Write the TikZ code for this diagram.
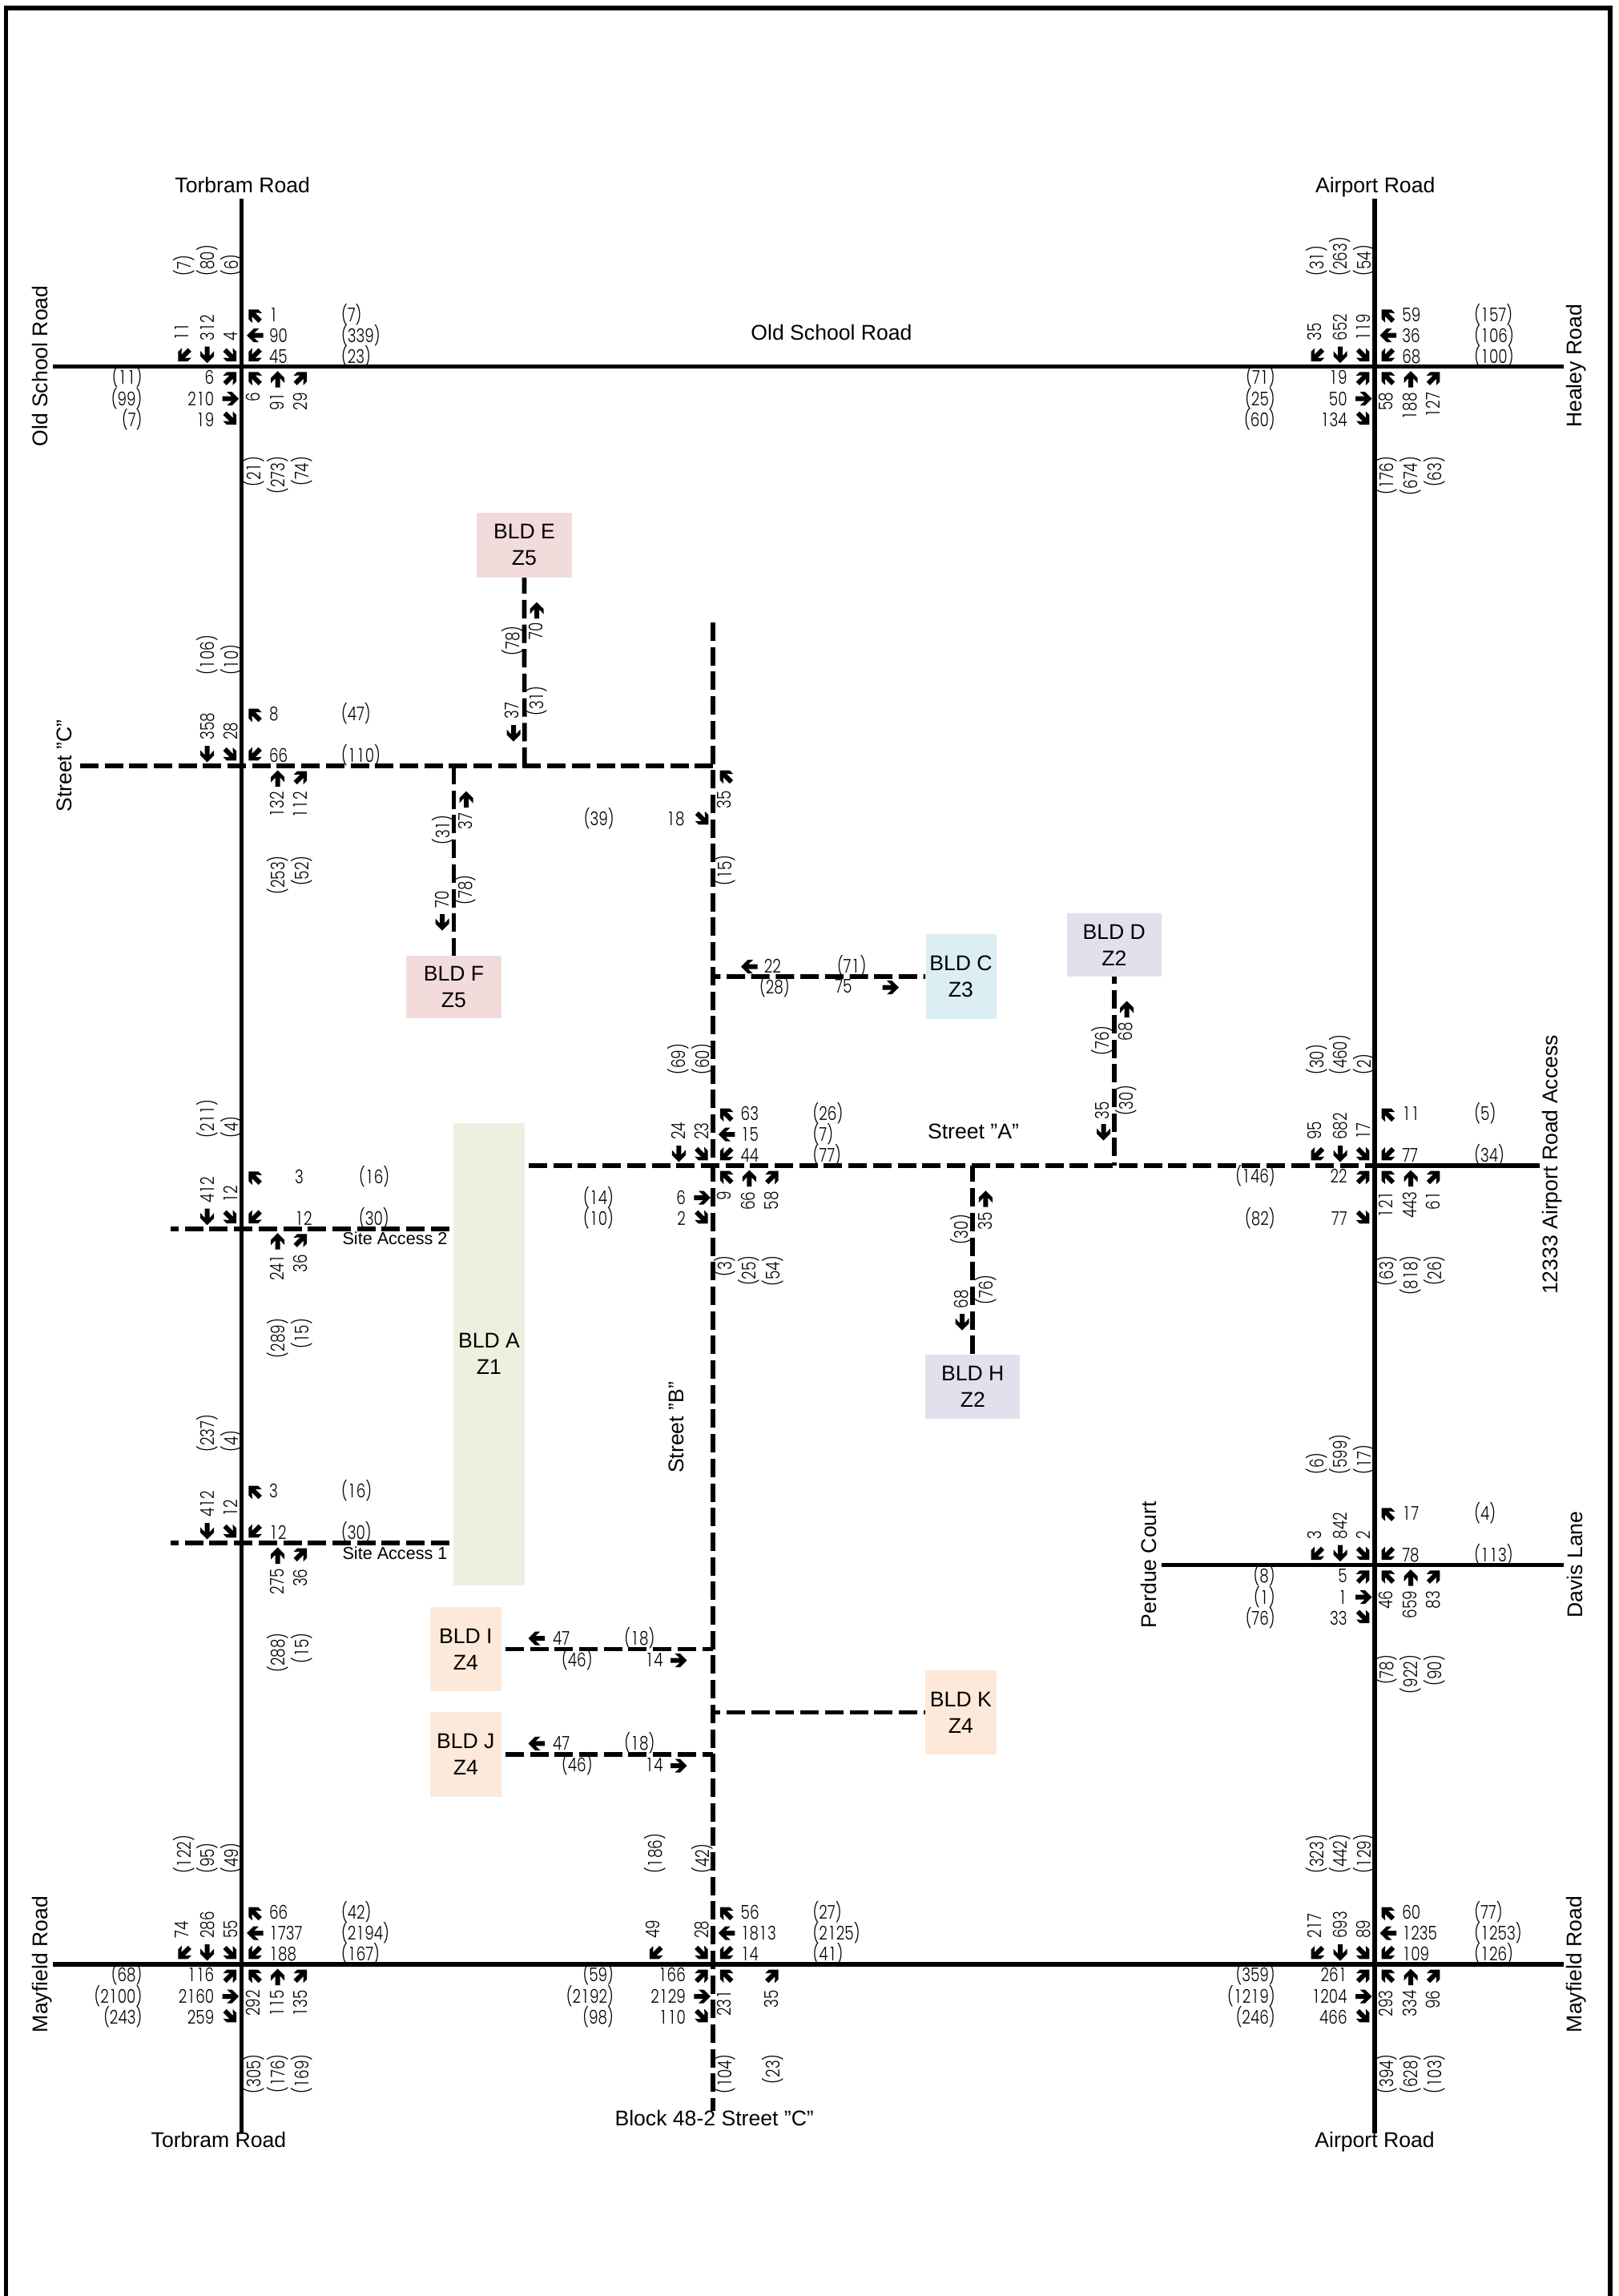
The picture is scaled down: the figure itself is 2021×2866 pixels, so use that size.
\documentclass[tikz,border=0pt]{standalone}
\usepackage{fontspec}
\setmainfont{Liberation Sans}
\newfontfamily\numf[FakeStretch=0.78]{Poppins Light}
\definecolor{bpink}{HTML}{F2DCDB}
\definecolor{bblue}{HTML}{DAEEF3}
\definecolor{blav}{HTML}{E4DFEC}
\definecolor{bgreen}{HTML}{EBF1DE}
\definecolor{bpeach}{HTML}{FDE9D9}
\tikzset{
  numl/.style={inner sep=0pt,font=\numf\fontsize{11.8}{12}\selectfont,text height=8.3pt,text depth=0pt},
  rdname/.style={inner sep=0pt,font=\fontsize{13.3}{16}\selectfont,text height=9.6pt,text depth=0pt},
  sitename/.style={inner sep=0pt,font=\fontsize{10.8}{13}\selectfont,text height=7.8pt,text depth=0pt},
  bld/.style={fill=#1,inner sep=0pt,align=center,font=\fontsize{13.3}{16.5}\selectfont},
  solidroad/.style={line width=2.65pt,black},
  dashroad/.style={line width=2.85pt,black,dash pattern=on 11.5pt off 3.85pt},
  dashroadp/.style={line width=2.85pt,black,dash pattern=on 11.5pt off 3.85pt,dash phase=7pt},
  frame/.style={line width=2.6pt,black}
}
\newcount\lblc
\def\ifne#1#2{\if\relax\detokenize{#1}\relax\else #2\fi}
% every digit one takes the width of the other digits
\def\fixd#1{\fixdA#1\relax}
\def\fixdA#1{\ifx#1\relax\else\ifx#11\hbox to 5.5pt{\hss 1\hss}\else #1\fi\expandafter\fixdA\fi}
% straight block arrow, centre (x,y), direction angle
\newcommand{\arw}[3]{\fill[shift={(#1,#2)},rotate=#3] (10.5,0)--(2,8.5)--(-4.5,8.5)--(1.5,3)--(-10,3)--(-10,-3)--(1.5,-3)--(-4.5,-8.5)--(2,-8.5)--cycle;}
% text placements
\newcommand{\tW}[3]{\global\advance\lblc by 1\node[numl,anchor=west] (t\the\lblc) at (#1,#2) {\fixd{#3}};}
\newcommand{\tE}[3]{\global\advance\lblc by 1\node[numl,anchor=east] (t\the\lblc) at (#1,#2) {\fixd{#3}};}
\newcommand{\tB}[3]{\global\advance\lblc by 1\node[numl,rotate=90,anchor=west] (t\the\lblc) at (#1,#2) {\fixd{#3}};}
\newcommand{\tT}[3]{\global\advance\lblc by 1\node[numl,rotate=90,anchor=east] (t\the\lblc) at (#1,#2) {\fixd{#3}};}
\newcommand{\tC}[3]{\global\advance\lblc by 1\node[numl,rotate=90] (t\the\lblc) at (#1,#2) {\fixd{#3}};}
\def\NOff{34}\def\POff{124}
% quadrants
\newcommand{\NEq}[6]{%
  \ifne{#1}{\arw{16}{-64}{135}\tW{\NOff}{-65}{#1}}%
  \ifne{#2}{\arw{17}{-39}{180}\tW{\NOff}{-39}{#2}}%
  \ifne{#3}{\arw{16}{-14}{225}\tW{\NOff}{-13}{#3}}%
  \ifne{#4}{\tW{\POff}{-65}{#4}}\ifne{#5}{\tW{\POff}{-39}{#5}}\ifne{#6}{\tW{\POff}{-13}{#6}}}
\newcommand{\NWq}[6]{%
  \ifne{#1}{\arw{-72}{-14}{225}\tB{-75}{-32}{#1}}%
  \ifne{#2}{\arw{-43}{-15}{270}\tB{-43}{-32}{#2}}%
  \ifne{#3}{\arw{-14}{-14}{315}\tB{-14}{-32}{#3}}%
  \ifne{#4}{\tB{-72}{-113}{#4}}\ifne{#5}{\tB{-43}{-113}{#5}}\ifne{#6}{\tB{-13}{-113}{#6}}}
\newcommand{\SWq}[6]{%
  \ifne{#1}{\arw{-14}{14}{45}\tE{-34}{13}{#1}}%
  \ifne{#2}{\arw{-14}{40}{0}\tE{-34}{40}{#2}}%
  \ifne{#3}{\arw{-14}{65}{315}\tE{-34}{66}{#3}}%
  \ifne{#4}{\tE{-124}{13}{#4}}\ifne{#5}{\tE{-124}{40}{#5}}\ifne{#6}{\tE{-124}{66}{#6}}}
\newcommand{\SEq}[6]{%
  \ifne{#1}{\arw{16}{14}{135}\tT{14}{32}{#1}}%
  \ifne{#2}{\arw{45}{16}{90}\tT{44}{32}{#2}}%
  \ifne{#3}{\arw{74}{14}{45}\tT{73}{32}{#3}}%
  \ifne{#4}{\tT{15}{112}{#4}}\ifne{#5}{\tT{45}{112}{#5}}\ifne{#6}{\tT{75}{112}{#6}}}
\begin{document}
\begin{tikzpicture}[x=0.5pt,y=-0.5pt]
\useasboundingbox (0,0) rectangle (2021,2866);
% frame (no bottom edge)
\coordinate (fa) at (7.5,2880); \coordinate (fb) at (7.5,10); \coordinate (fc) at (2010,10); \coordinate (fd) at (2010,2880);
\begin{scope}
\clip (0,0) rectangle (2021,2866);
\draw[frame] (fa)--(fb)--(fc)--(fd);
\end{scope}
% buildings
\node[bld=bpink,minimum width=59.5pt,minimum height=40.3pt] (bldE) at (654.5,680.3) {BLD E\\Z5};
\node[bld=bpink,minimum width=59.5pt,minimum height=39pt] (bldF) at (566.5,1232) {BLD F\\Z5};
\node[bld=bblue,minimum width=44pt,minimum height=52.9pt] (bldC) at (1199.5,1218.9) {BLD C\\Z3};
\node[bld=blav,minimum width=59.2pt,minimum height=39.5pt] (bldD) at (1390.8,1179.5) {BLD D\\Z2};
\node[bld=bgreen,minimum width=44.5pt,minimum height=288.7pt] (bldA) at (610.5,1690.3) {BLD A\\Z1};
\node[bld=blav,minimum width=59pt,minimum height=40pt] (bldH) at (1214.3,1730.7) {BLD H\\Z2};
\node[bld=bpeach,minimum width=44.4pt,minimum height=52.5pt] (bldI) at (581.3,2058.5) {BLD I\\Z4};
\node[bld=bpeach,minimum width=44.4pt,minimum height=52.8pt] (bldJ) at (581.3,2189.9) {BLD J\\Z4};
\node[bld=bpeach,minimum width=44.4pt,minimum height=52.5pt] (bldK) at (1199.4,2137.5) {BLD K\\Z4};
% junctions
\coordinate (TO) at (301.7,457.7); \coordinate (AO) at (1716,457.7);
\coordinate (TM) at (301.7,2452);  \coordinate (BM) at (890.3,2452); \coordinate (AM) at (1716,2452);
\coordinate (TC) at (301.7,956);   \coordinate (BC) at (890.3,956);
\coordinate (TS2) at (301.7,1533.7); \coordinate (TS1) at (301.7,1926);
\coordinate (BA) at (890.3,1455);  \coordinate (AA) at (1716,1455);
\coordinate (AD) at (1716,1953.7);
\coordinate (jE) at (654.7,956); \coordinate (jF) at (566.5,956);
\coordinate (jC) at (890.3,1219); \coordinate (jD) at (1390.8,1455); \coordinate (jH) at (1214.3,1455);
\coordinate (jI) at (890.3,2058.5); \coordinate (jJ) at (890.3,2189.9); \coordinate (jK) at (890.3,2137.5);
% road ends
\coordinate (Ttop) at (301.7,248); \coordinate (Tbot) at (301.7,2663);
\coordinate (Atop) at (1716,248); \coordinate (Abot) at (1716,2663);
\coordinate (Ol) at (66,457.7); \coordinate (Or) at (1952,457.7);
\coordinate (Ml) at (66,2452); \coordinate (Mr) at (1952,2452);
\coordinate (Dl) at (1449.5,1953.7); \coordinate (Dr) at (1951.7,1953.7);
\coordinate (Sal) at (660,1455); \coordinate (Sar) at (1922,1455);
\coordinate (Scl) at (97,956);
\coordinate (Btop) at (890.3,777); \coordinate (Bbot) at (890.3,2635);
\coordinate (S2r) at (560.7,1533.7); \coordinate (S2l) at (213,1533.7);
\coordinate (S1r) at (560.7,1926); \coordinate (S1l) at (213,1926);
% roads
\draw[solidroad] (Ttop)--(Tbot);
\draw[solidroad] (Atop)--(Abot);
\draw[solidroad] (Ol)--(Or);
\draw[solidroad] (Ml)--(Mr);
\draw[solidroad] (Dl)--(Dr);
\draw[solidroad] (AA)--(Sar);
\draw[dashroad] (Sal)--(AA);
\draw[dashroad] (BC)--(Scl);
\draw[dashroad] (Btop)--(Bbot);
\draw[dashroad] (S2r)--(S2l);
\draw[dashroad] (S1r)--(S1l);
\draw[dashroad] (jE)--(bldE.south);
\draw[dashroad] (jF)--(bldF.north);
\draw[dashroadp] (jC)--(bldC.west);
\draw[dashroadp] (bldD.south)--(jD);
\draw[dashroad] (bldH.north)--(jH);
\draw[dashroad] ([xshift=2.4pt]bldI.east)--(jI);
\draw[dashroad] ([xshift=2.4pt]bldJ.east)--(jJ);
\draw[dashroadp] (jK)--(bldK.west);
% road names
\node[rdname] (n1) at (302.7,231) {Torbram Road};
\node[rdname] (n2) at (1716.7,231) {Airport Road};
\node[rdname] (n3) at (273,2671) {Torbram Road};
\node[rdname] (n4) at (1716,2671) {Airport Road};
\node[rdname] (n5) at (891.7,2644) {Block 48-2 Street "C"};
\node[rdname] (n6) at (1038,415) {Old School Road};
\node[rdname] (n7) at (1215,1412) {Street "A"};
\node[rdname,rotate=90] (n8) at (50,457) {Old School Road};
\node[rdname,rotate=90] (n9) at (1965,457) {Healey Road};
\node[rdname,rotate=90] (n10) at (50,2452) {Mayfield Road};
\node[rdname,rotate=90] (n11) at (1965,2452) {Mayfield Road};
\node[rdname,rotate=90] (n12) at (80,956) {Street "C"};
\node[rdname,rotate=90] (n13) at (844,1782) {Street "B"};
\node[rdname,rotate=90] (n14) at (1934.4,1454) {12333 Airport Road Access};
\node[rdname,rotate=90] (n15) at (1433.7,1953) {Perdue Court};
\node[rdname,rotate=90] (n16) at (1965.5,1953) {Davis Lane};
\node[sitename] (n17) at (493,1546) {Site Access 2};
\node[sitename] (n18) at (493,1939) {Site Access 1};
% intersections
\begin{scope}[shift={(TO)}]
\NEq{1}{90}{45}{(7)}{(339)}{(23)}
\NWq{11}{312}{4}{(7)}{(80)}{(6)}
\SWq{6}{210}{19}{(11)}{(99)}{(7)}
\SEq{6}{91}{29}{(21)}{(273)}{(74)}
\end{scope}
\begin{scope}[shift={(AO)}]
\NEq{59}{36}{68}{(157)}{(106)}{(100)}
\NWq{35}{652}{119}{(31)}{(263)}{(54)}
\SWq{19}{50}{134}{(71)}{(25)}{(60)}
\SEq{58}{188}{127}{(176)}{(674)}{(63)}
\end{scope}
\begin{scope}[shift={(TM)}]
\NEq{66}{1737}{188}{(42)}{(2194)}{(167)}
\NWq{74}{286}{55}{(122)}{(95)}{(49)}
\SWq{116}{2160}{259}{(68)}{(2100)}{(243)}
\SEq{292}{115}{135}{(305)}{(176)}{(169)}
\end{scope}
\begin{scope}[shift={(BM)}]
\NEq{56}{1813}{14}{(27)}{(2125)}{(41)}
\NWq{49}{}{28}{(186)}{}{(42)}
\SWq{166}{2129}{110}{(59)}{(2192)}{(98)}
\SEq{231}{}{35}{(104)}{}{(23)}
\end{scope}
\begin{scope}[shift={(AM)}]
\NEq{60}{1235}{109}{(77)}{(1253)}{(126)}
\NWq{217}{693}{89}{(323)}{(442)}{(129)}
\SWq{261}{1204}{466}{(359)}{(1219)}{(246)}
\SEq{293}{334}{96}{(394)}{(628)}{(103)}
\end{scope}
\begin{scope}[shift={(BA)}]
\NEq{63}{15}{44}{(26)}{(7)}{(77)}
\NWq{}{24}{23}{}{(69)}{(60)}
\SWq{}{6}{2}{}{(14)}{(10)}
\SEq{9}{66}{58}{(3)}{(25)}{(54)}
\end{scope}
\begin{scope}[shift={(AA)}]
\NEq{11}{}{77}{(5)}{}{(34)}
\NWq{95}{682}{17}{(30)}{(460)}{(2)}
\SWq{22}{}{77}{(146)}{}{(82)}
\SEq{121}{443}{61}{(63)}{(818)}{(26)}
\end{scope}
\begin{scope}[shift={(AD)}]
\NEq{17}{}{78}{(4)}{}{(113)}
\NWq{3}{842}{2}{(6)}{(599)}{(17)}
\SWq{5}{1}{33}{(8)}{(1)}{(76)}
\SEq{46}{659}{83}{(78)}{(922)}{(90)}
\end{scope}
\begin{scope}[shift={(TC)}]
\NEq{8}{}{66}{(47)}{}{(110)}
\NWq{}{358}{28}{}{(106)}{(10)}
\SEq{}{132}{112}{}{(253)}{(52)}
\end{scope}
\begin{scope}[shift={(TS2)}]
\def\NOff{66}\def\POff{146}
\NEq{3}{}{12}{(16)}{}{(30)}
\NWq{}{412}{12}{}{(211)}{(4)}
\SEq{}{241}{36}{}{(289)}{(15)}
\end{scope}
\begin{scope}[shift={(TS1)}]
\NEq{3}{}{12}{(16)}{}{(30)}
\NWq{}{412}{12}{}{(237)}{(4)}
\SEq{}{275}{36}{}{(288)}{(15)}
\end{scope}
% Street C / Street B corner
\arw{906}{969}{135}
\tC{904.5}{998.6}{35}
\tE{855}{1022}{18}
\tE{767}{1022}{(39)}
\arw{877}{1022}{315}
\tT{905.6}{1067}{(15)}
% BLD E drive
\arw{670}{762}{90}
\tC{669}{788}{70}
\tC{640}{800}{(78)}
\tC{639}{887}{37}
\arw{641}{915}{270}
\tC{670}{875}{(31)}
% BLD F drive
\arw{582}{998}{90}
\tC{581}{1025}{37}
\tC{553}{1036}{(31)}
\tC{581}{1111}{(78)}
\tC{552}{1123}{70}
\arw{552}{1151}{270}
% BLD C drive
\arw{935.5}{1206.7}{180}
\tW{953.5}{1205.7}{22}
\tW{1044.6}{1205.7}{(71)}
\tW{947.7}{1232}{(28)}
\tW{1042}{1231}{75}
\arw{1111.5}{1232.7}{0}
% BLD D drive
\arw{1406.6}{1260}{90}
\tC{1405.4}{1287.7}{68}
\tC{1376.4}{1299}{(76)}
\tC{1376.4}{1386}{35}
\arw{1377.5}{1413}{270}
\tC{1406.6}{1374}{(30)}
% BLD H drive
\arw{1230.4}{1496.7}{90}
\tC{1230}{1524}{35}
\tC{1200}{1535}{(30)}
\tC{1231}{1610}{(76)}
\tC{1200}{1621.7}{68}
\arw{1201}{1650}{270}
% BLD I drive
\arw{670}{2045}{180}
\tW{689.7}{2045}{47}
\tW{779}{2045}{(18)}
\tW{700.8}{2072}{(46)}
\tW{805}{2072}{14}
\arw{847}{2072.7}{0}
% BLD J drive
\arw{670}{2176.4}{180}
\tW{689.7}{2176.4}{47}
\tW{779}{2176.4}{(18)}
\tW{700.8}{2203.4}{(46)}
\tW{805}{2203.4}{14}
\arw{847}{2204}{0}
\end{tikzpicture}
\end{document}
